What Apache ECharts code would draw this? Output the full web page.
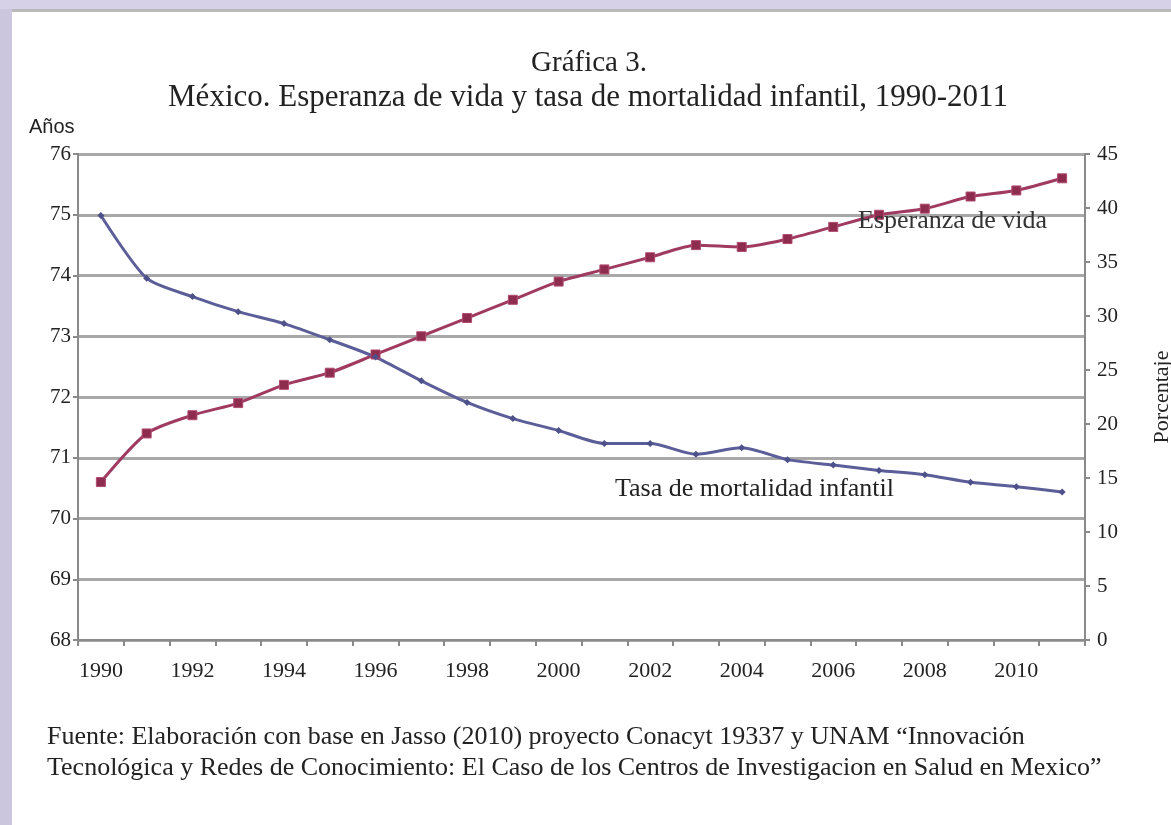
<!DOCTYPE html>
<html>
<head>
<meta charset="utf-8">
<script src="https://cdn.jsdelivr.net/npm/echarts@6/dist/echarts.min.js"></script>
<style>
html,body{margin:0;padding:0;background:#ffffff;}
#c{width:1171px;height:825px;}
</style>
</head>
<body>
<div id="c"></div>
<script>
const years = ['1990','1991','1992','1993','1994','1995','1996','1997','1998','1999','2000','2001','2002','2003','2004','2005','2006','2007','2008','2009','2010','2011'];
const esperanzaVida = [70.6,71.4,71.7,71.9,72.2,72.4,72.7,73.0,73.3,73.6,73.9,74.1,74.3,74.5,74.47,74.6,74.8,75.0,75.1,75.3,75.4,75.6];
const mortalidadInfantil = [39.3,33.5,31.8,30.4,29.3,27.8,26.2,24.0,22.0,20.5,19.4,18.2,18.2,17.2,17.8,16.7,16.2,15.7,15.3,14.6,14.2,13.7];
const leftTicks = {min:68, max:76, interval:1};
const rightTicks = {min:0, max:45, interval:5};
const titleLine1 = 'Gráfica 3.';
const titleLine2 = 'México. Esperanza de vida y tasa de mortalidad infantil, 1990-2011';
const fuente1 = 'Fuente: Elaboración con base en Jasso (2010) proyecto Conacyt 19337 y UNAM “Innovación';
const fuente2 = 'Tecnológica y Redes de Conocimiento: El Caso de los Centros de Investigacion en Salud en Mexico”';

const serif = '"Liberation Serif","Times New Roman",serif';
const chart = echarts.init(document.getElementById('c'), null, {renderer:'canvas'});
chart.setOption({
  backgroundColor:'#ffffff',
  animation:false,
  grid:{left:78, right:86, top:154, bottom:185, containLabel:false, outerBoundsMode:'none'},
  xAxis:{
    type:'category', data:years, boundaryGap:true,
    axisLine:{lineStyle:{color:'#8a8a8a', width:2}},
    axisTick:{show:true, interval:0, length:6, lineStyle:{color:'#8a8a8a', width:2}},
    axisLabel:{interval:1, color:'#222', fontFamily:serif, fontSize:22, margin:20}
  },
  yAxis:[
    {type:'value', min:leftTicks.min, max:leftTicks.max, interval:leftTicks.interval, position:'left',
     axisLine:{show:true, lineStyle:{color:'#8a8a8a', width:2}},
     axisTick:{show:true, length:5, lineStyle:{color:'#8a8a8a', width:2}},
     axisLabel:{color:'#222', fontFamily:serif, fontSize:21, margin:7},
     splitLine:{show:true, lineStyle:{color:'#a8a8a8', width:3}}},
    {type:'value', min:rightTicks.min, max:rightTicks.max, interval:rightTicks.interval, position:'right',
     name:'Porcentaje', nameLocation:'middle', nameRotate:90, nameGap:66,
     nameTextStyle:{color:'#222', fontFamily:serif, fontSize:22},
     axisLine:{show:true, lineStyle:{color:'#8a8a8a', width:2}},
     axisTick:{show:true, length:5, lineStyle:{color:'#8a8a8a', width:2}},
     axisLabel:{color:'#222', fontFamily:serif, fontSize:21, margin:12},
     splitLine:{show:false}}
  ],
  series:[
    {name:'Esperanza de vida', type:'line', yAxisIndex:0, data:esperanzaVida, smooth:0.25,
     symbol:'rect', symbolSize:9,
     lineStyle:{color:'#a03a60', width:3},
     itemStyle:{color:'#8e2c4e', borderColor:'#b04a70', borderWidth:1}},
    {name:'Tasa de mortalidad infantil', type:'line', yAxisIndex:1, data:mortalidadInfantil, smooth:0.25,
     symbol:'diamond', symbolSize:7,
     lineStyle:{color:'#5b5e98', width:3},
     itemStyle:{color:'#4d5089'}}
  ],
  graphic:[
    {type:'rect', shape:{x:0,y:0,width:12,height:825}, style:{fill:'#cbc5de'}, silent:true},
    {type:'rect', shape:{x:0,y:0,width:1171,height:9}, style:{fill:'#d6d1e6'}, silent:true},
    {type:'rect', shape:{x:12,y:9,width:1159,height:3}, style:{fill:'#b9b9b9'}, silent:true},
    {type:'text', x:589, y:63, style:{text:titleLine1, font:'29px '+serif, fill:'#222', align:'center', verticalAlign:'middle'}},
    {type:'text', x:588, y:98, style:{text:titleLine2, font:'31px '+serif, fill:'#222', align:'center', verticalAlign:'middle'}},
    {type:'text', x:29, y:127, style:{text:'Años', font:'20px "Liberation Sans",Arial,sans-serif', fill:'#222', align:'left', verticalAlign:'middle'}},
    {type:'text', x:858, y:221, style:{text:'Esperanza de vida', font:'26px '+serif, fill:'#333', align:'left', verticalAlign:'middle'}, z:100},
    {type:'text', x:615, y:489, style:{text:'Tasa de mortalidad infantil', font:'26px '+serif, fill:'#222', align:'left', verticalAlign:'middle'}, z:100},
    {type:'text', x:47, y:737, style:{text:fuente1, font:'26px '+serif, fill:'#222', align:'left', verticalAlign:'middle'}},
    {type:'text', x:47, y:768, style:{text:fuente2, font:'26px '+serif, fill:'#222', align:'left', verticalAlign:'middle'}}
  ]
});
</script>
</body>
</html>
